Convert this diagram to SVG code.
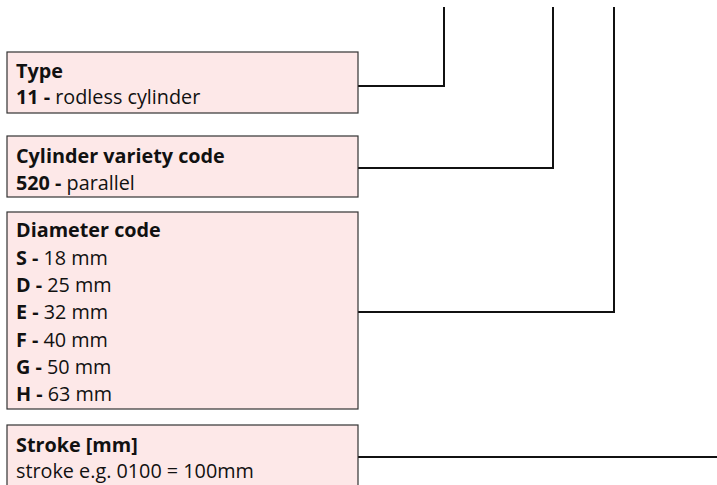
<svg xmlns="http://www.w3.org/2000/svg" width="717" height="485" viewBox="0 0 717 485">
<style>
.box{fill:#fde8e8;stroke:#333;stroke-width:1.2}
text{font-family:"Open Sans","Noto Sans",sans-serif;font-size:19.8px;fill:#111}
.b{font-weight:bold}
.con{fill:none;stroke:#111;stroke-width:2}
</style>
<rect width="717" height="485" fill="#fff"/>
<g id="connectors">
<polyline class="con" points="358,86 444,86 444,7"/>
<polyline class="con" points="358,168 553,168 553,7"/>
<polyline class="con" points="358,312 614,312 614,7"/>
<polyline class="con" points="358,457 717,457"/>
</g>
<g id="type">
<rect class="box" x="7" y="52" width="351" height="61"/>
<text x="16" y="78" class="b">Type</text>
<text x="16" y="104"><tspan class="b">11 - </tspan>rodless cylinder</text>
</g>
<g id="variety">
<rect class="box" x="7" y="136" width="351" height="61"/>
<text x="16" y="163" class="b">Cylinder variety code</text>
<text x="16" y="190"><tspan class="b">520 - </tspan>parallel</text>
</g>
<g id="diameter">
<rect class="box" x="7" y="212" width="351" height="197"/>
<text x="16" y="237" class="b">Diameter code</text>
<text x="16" y="265"><tspan class="b">S - </tspan>18 mm</text>
<text x="16" y="292"><tspan class="b">D - </tspan>25 mm</text>
<text x="16" y="319"><tspan class="b">E - </tspan>32 mm</text>
<text x="16" y="347"><tspan class="b">F - </tspan>40 mm</text>
<text x="16" y="374"><tspan class="b">G - </tspan>50 mm</text>
<text x="16" y="401"><tspan class="b">H - </tspan>63 mm</text>
</g>
<g id="stroke">
<rect class="box" x="7" y="425" width="351" height="70"/>
<text x="16" y="452" class="b">Stroke [mm]</text>
<text x="16" y="478">stroke e.g. 0100 = 100mm</text>
</g>
</svg>
